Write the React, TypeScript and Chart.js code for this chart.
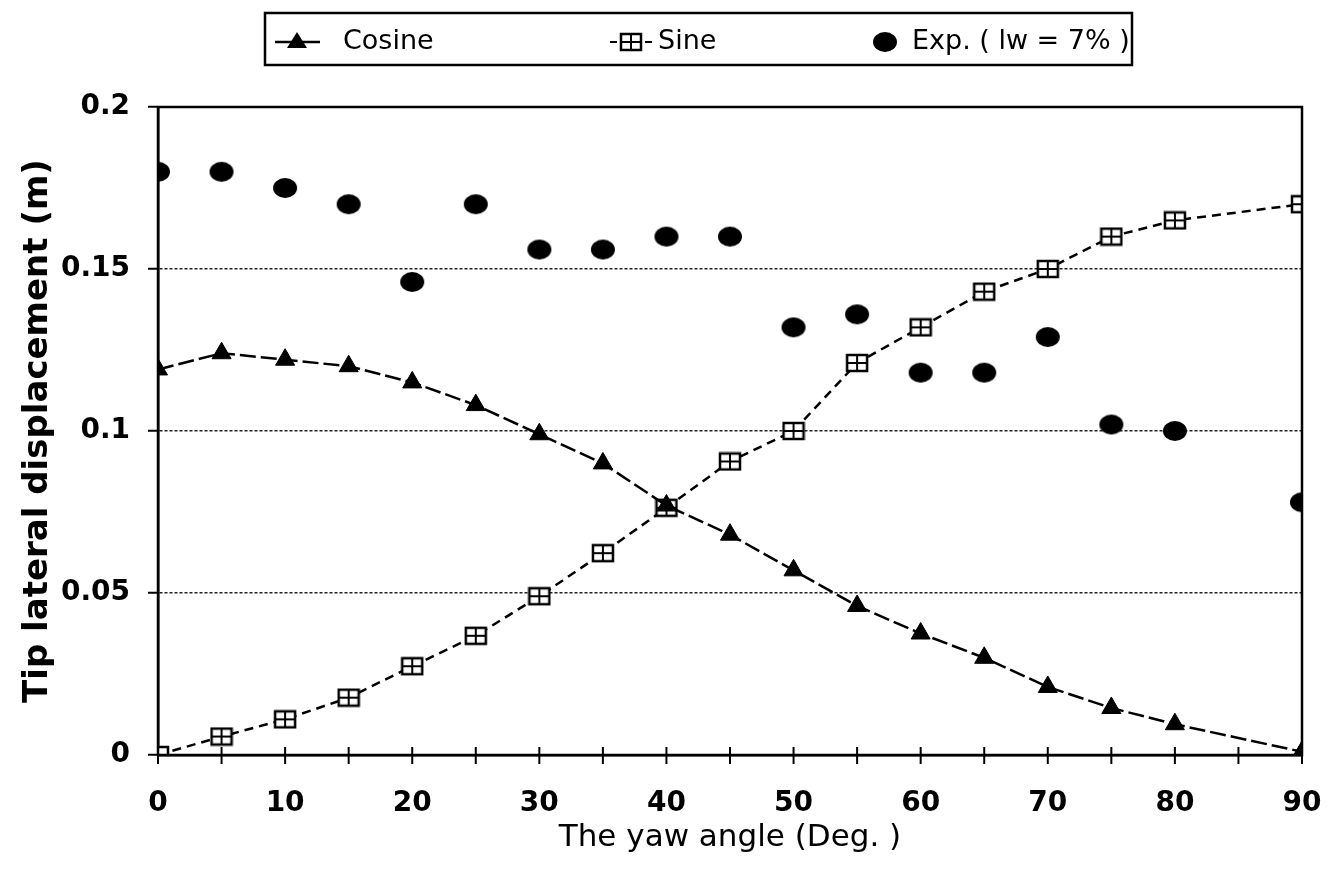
import React, { useEffect, useRef } from 'react';
import { Chart, registerables } from 'chart.js';

Chart.register(...registerables);

const angles = [0, 5, 10, 15, 20, 25, 30, 35, 40, 45, 50, 55, 60, 65, 70, 75, 80, 90];
const cosine = [0.119, 0.124, 0.122, 0.12, 0.115, 0.108, 0.099, 0.09, 0.077, 0.068, 0.057, 0.046, 0.0375, 0.03, 0.021, 0.0145, 0.0095, 0.001];
const sine = [0, 0.0057, 0.011, 0.0177, 0.0274, 0.0368, 0.049, 0.0623, 0.0763, 0.0906, 0.1, 0.121, 0.132, 0.143, 0.15, 0.16, 0.165, 0.17];
const experiment = [0.18, 0.18, 0.175, 0.17, 0.146, 0.17, 0.156, 0.156, 0.16, 0.16, 0.132, 0.136, 0.118, 0.118, 0.129, 0.102, 0.1, 0.078];

const xTickLabels = ['0', '10', '20', '30', '40', '50', '60', '70', '80', '90'];
const yTickLabels = ['0', '0.05', '0.1', '0.15', '0.2'];
const legendLabels = ['Cosine', 'Sine', 'Exp. ( lw = 7% )'];
const xTitle = 'The yaw angle (Deg. )';
const yTitle = 'Tip lateral displacement (m)';

const FONT = "'DejaVu Sans', 'Liberation Sans', Arial, sans-serif";

function makeSquare(): HTMLCanvasElement {
  const c = document.createElement('canvas');
  c.width = 24;
  c.height = 20;
  const g = c.getContext('2d')!;
  g.fillStyle = '#fff';
  g.fillRect(2, 2, 20, 16);
  g.strokeStyle = '#000';
  g.lineWidth = 2.5;
  g.strokeRect(2, 2, 20, 16);
  g.lineWidth = 2;
  g.beginPath();
  g.moveTo(12, 2);
  g.lineTo(12, 18);
  g.moveTo(2, 10);
  g.lineTo(22, 10);
  g.stroke();
  return c;
}

function makeDot(): HTMLCanvasElement {
  const c = document.createElement('canvas');
  c.width = 26;
  c.height = 22;
  const g = c.getContext('2d')!;
  g.fillStyle = '#000';
  g.beginPath();
  g.ellipse(13, 11, 12, 10, 0, 0, Math.PI * 2);
  g.fill();
  return c;
}

export default function App() {
  const ref = useRef<HTMLCanvasElement | null>(null);

  useEffect(() => {
    if (!ref.current) return;
    const square = makeSquare();
    const dot = makeDot();

    const frame = {
      id: 'frame',
      afterDatasetsDraw(chart: any) {
        const { ctx, chartArea } = chart;
        const x = chart.scales.x;
        ctx.save();
        ctx.strokeStyle = '#000';
        ctx.lineWidth = 2.5;
        ctx.setLineDash([]);
        ctx.strokeRect(chartArea.left, chartArea.top, chartArea.right - chartArea.left, chartArea.bottom - chartArea.top);
        ctx.lineWidth = 2;
        for (let v = 0; v <= 90; v += 5) {
          const px = x.getPixelForValue(v);
          ctx.beginPath();
          ctx.moveTo(px, chartArea.bottom - 8);
          ctx.lineTo(px, chartArea.bottom + 9);
          ctx.stroke();
        }
        ctx.restore();
      },
      afterDraw(chart: any) {
        const { ctx } = chart;
        ctx.save();
        ctx.strokeStyle = '#000';
        ctx.lineWidth = 2.5;
        ctx.setLineDash([]);
        ctx.strokeRect(257, 5, 867, 52);
        ctx.font = `27px ${FONT}`;
        ctx.fillStyle = '#000';
        ctx.textBaseline = 'middle';
        const y = 34;
        // Cosine
        ctx.lineWidth = 2.5;
        ctx.beginPath();
        ctx.moveTo(267, y);
        ctx.lineTo(312, y);
        ctx.stroke();
        ctx.beginPath();
        ctx.moveTo(289, y - 10);
        ctx.lineTo(299, y + 6);
        ctx.lineTo(279, y + 6);
        ctx.closePath();
        ctx.fill();
        ctx.fillText(legendLabels[0], 335, y);
        // Sine
        ctx.lineWidth = 2;
        ctx.beginPath();
        ctx.moveTo(602, y);
        ctx.lineTo(609, y);
        ctx.moveTo(637, y);
        ctx.lineTo(644, y);
        ctx.stroke();
        ctx.drawImage(square, 611, y - 10);
        ctx.fillText(legendLabels[1], 650, y);
        // Exp
        ctx.drawImage(dot, 864, y - 11);
        ctx.fillText(legendLabels[2], 904, y);
        ctx.restore();
      },
    };

    const chart = new Chart(ref.current, {
      type: 'line',
      data: {
        datasets: [
          {
            label: legendLabels[0],
            data: angles.map((a, i) => ({ x: a, y: cosine[i] })),
            borderColor: '#000',
            backgroundColor: '#000',
            borderWidth: 2.5,
            borderDash: [16, 5],
            pointStyle: 'triangle',
            pointRadius: 11,
            pointBackgroundColor: '#000',
            pointBorderColor: '#000',
            pointBorderWidth: 1,
            tension: 0,
          },
          {
            label: legendLabels[1],
            data: angles.map((a, i) => ({ x: a, y: sine[i] })),
            borderColor: '#000',
            backgroundColor: '#fff',
            borderWidth: 2.5,
            borderDash: [9, 6],
            pointStyle: square as any,
            pointRadius: 10,
            tension: 0,
          },
          {
            label: legendLabels[2],
            data: angles.map((a, i) => ({ x: a, y: experiment[i] })),
            showLine: false,
            borderColor: '#000',
            backgroundColor: '#000',
            pointStyle: dot as any,
            pointRadius: 11,
          },
        ],
      },
      options: {
        animation: false,
        responsive: true,
        maintainAspectRatio: false,
        layout: { padding: { top: 99, right: 20, left: 0, bottom: 0 } },
        plugins: {
          legend: { display: false },
          tooltip: { enabled: false },
        },
        scales: {
          x: {
            type: 'linear',
            min: 0,
            max: 90,
            afterFit: (s: any) => {
              s.height = 106;
              s.paddingLeft = 0;
              s.paddingRight = 0;
            },
            grid: { display: false, drawTicks: false },
            border: { display: true, color: '#000', width: 2.5 },
            ticks: {
              stepSize: 5,
              autoSkip: false,
              maxRotation: 0,
              padding: 32,
              color: '#000',
              font: { family: FONT, size: 28, weight: 'bold' },
              callback: (v: any) => (Number(v) % 10 === 0 ? xTickLabels[Number(v) / 10] : ''),
            },
            title: {
              display: true,
              text: xTitle,
              color: '#000',
              font: { family: FONT, size: 31 },
              padding: { top: 0, bottom: 4 },
            },
          },
          y: {
            type: 'linear',
            min: 0,
            max: 0.2,
            afterFit: (s: any) => {
              s.width = 150;
              s.paddingTop = 0;
              s.paddingBottom = 0;
            },
            grid: {
              drawTicks: true,
              tickLength: 10,
              tickWidth: 2,
              tickColor: '#000',
              lineWidth: 1.5,
              color: (c: any) => {
                const v = c.tick ? c.tick.value : 0;
                return Math.abs(v) < 1e-6 || Math.abs(v - 0.2) < 1e-6 ? 'rgba(0,0,0,0)' : '#222';
              },
            },
            border: { display: true, color: '#000', width: 2.5, dash: [3, 2] },
            ticks: {
              stepSize: 0.05,
              padding: 18,
              color: '#000',
              font: { family: FONT, size: 28, weight: 'bold' },
              callback: (v: any) => yTickLabels[Math.round(Number(v) / 0.05)],
            },
            title: {
              display: true,
              text: yTitle,
              color: '#000',
              font: { family: FONT, size: 34, weight: 'bold' },
              padding: { top: 10, bottom: 0 },
            },
          },
        },
      },
      plugins: [frame],
    });
    return () => chart.destroy();
  }, []);

  return (
    <div style={{ width: 1314, height: 853, position: 'relative' }}>
      <canvas ref={ref} />
    </div>
  );
}
